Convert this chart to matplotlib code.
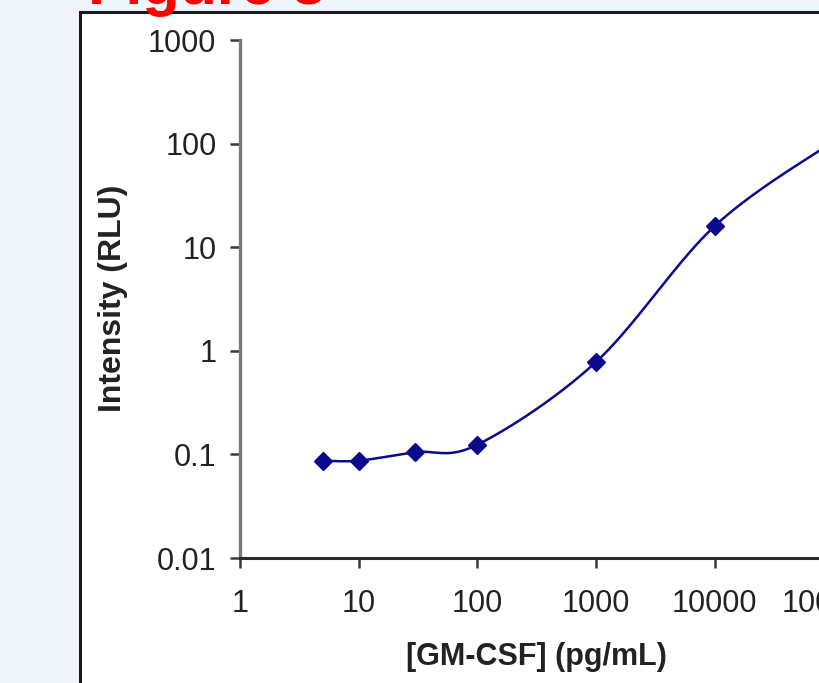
import numpy as np
import matplotlib.pyplot as plt
from matplotlib.patches import Rectangle

# GM-CSF concentration (pg/mL) vs intensity (RLU)
conc = [5, 10, 30, 100, 1000, 10000, 100000]
intensity = [0.087, 0.087, 0.105, 0.124, 0.78, 16.0, 105.0]

x_ticks = [1, 10, 100, 1000, 10000, 100000, 1000000]
x_tick_labels = ["1", "10", "100", "1000", "10000", "100000", "1000000"]
y_ticks = [0.01, 0.1, 1, 10, 100, 1000]
y_tick_labels = ["0.01", "0.1", "1", "10", "100", "1000"]

LINE = "#0a0a8c"


def smooth_curve(xs, ys, n=40):
    """Excel-style smoothed line: parametric Catmull-Rom in log-log space."""
    pts = np.column_stack([np.log10(xs), np.log10(ys)])
    pts = np.vstack([pts[0], pts, pts[-1]])
    out = []
    t = np.linspace(0, 1, n)
    for i in range(1, len(pts) - 2):
        p0, p1, p2, p3 = pts[i - 1], pts[i], pts[i + 1], pts[i + 2]
        c1 = p1 + (p2 - p0) / 6
        c2 = p2 - (p3 - p1) / 6
        seg = ((1 - t) ** 3)[:, None] * p1 + (3 * (1 - t) ** 2 * t)[:, None] * c1 \
            + (3 * (1 - t) * t ** 2)[:, None] * c2 + (t ** 3)[:, None] * p2
        out.append(seg)
    curve = np.vstack(out)
    return 10 ** curve[:, 0], 10 ** curve[:, 1]


plt.rcParams["font.family"] = ["Liberation Sans", "DejaVu Sans"]

fig = plt.figure(figsize=(8.2, 6.83), dpi=100)
fig.patch.set_facecolor("#f0f4fb")

# white panel with dark border, cut off at right and bottom
fig.patches.append(Rectangle((80 / 820, -0.1), 1.0, 0.1 + (683 - 12) / 683,
                             transform=fig.transFigure, facecolor="white",
                             edgecolor="#1a1a1a", linewidth=2.2, zorder=-10))

fig.text(88 / 820, 1 - 4 / 683, "Figure 3", color="#ff0000", fontsize=44,
         fontweight="bold", ha="left", va="baseline")

ax = fig.add_axes([240 / 820, 125 / 683, 712 / 820, 518 / 683])
ax.set_zorder(5)
ax.set_facecolor("none")

cx, cy = smooth_curve(conc, intensity)
ax.plot(cx, cy, color=LINE, linewidth=1.8, zorder=3)
ax.plot(conc, intensity, linestyle="none", marker="D", markersize=9.5,
        color=LINE, zorder=4)

ax.set_xscale("log")
ax.set_yscale("log")
ax.set_xlim(1, 1000000)
ax.set_ylim(0.01, 1000)
ax.set_xticks(x_ticks)
ax.set_xticklabels(x_tick_labels)
ax.set_yticks(y_ticks)
ax.set_yticklabels(y_tick_labels)
ax.minorticks_off()

for side in ["top", "right"]:
    ax.spines[side].set_visible(False)
ax.spines["left"].set_color("#7a7a7a")
ax.spines["left"].set_linewidth(2.4)
ax.spines["bottom"].set_color("#2a2a2a")
ax.spines["bottom"].set_linewidth(2.2)

ax.tick_params(axis="both", direction="out", length=7, width=1.8,
               colors="#3a3a3a", labelcolor="#222222", labelsize=22)
ax.tick_params(axis="x", pad=15)
ax.tick_params(axis="y", pad=10)

ax.set_xlabel("[GM-CSF] (pg/mL)", fontsize=22, fontweight="bold",
              color="#222222")
ax.xaxis.set_label_coords((536 - 240) / 712, -(657 - 558) / 518)
ax.set_ylabel("Intensity (RLU)", fontsize=23, fontweight="bold",
              color="#222222")
ax.yaxis.set_label_coords(-(240 - 113) / 712, (558 - 298) / 518)
ax.xaxis.label.set_va("center")
ax.yaxis.label.set_va("center")

fig.savefig("out.png", dpi=100, facecolor=fig.get_facecolor())
